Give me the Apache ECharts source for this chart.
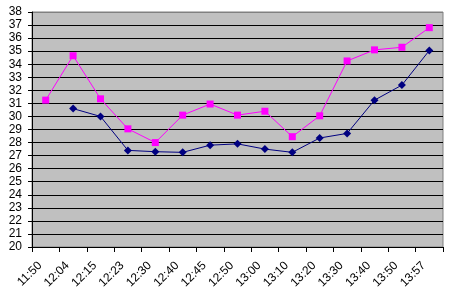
<!DOCTYPE html>
<html><head><meta charset="utf-8">
<script src="https://cdn.jsdelivr.net/npm/echarts@6/dist/echarts.min.js"></script>
<style>html,body{margin:0;padding:0;background:#fff}#c{width:449px;height:295px}</style>
</head><body><div id="c"></div>
<script>
const categories = ['11:50','12:04','12:15','12:23','12:30','12:40','12:45','12:50','13:00','13:10','13:20','13:30','13:40','13:50','13:57'];
const pinkValues = [31.25,34.65,31.35,29.05,28.0,30.1,30.95,30.1,30.4,28.45,30.05,34.25,35.1,35.3,36.8];
const blueValues = [null,30.6,30.0,27.4,27.3,27.25,27.8,27.9,27.5,27.25,28.35,28.7,31.25,32.4,35.05];
const yMin = 20, yMax = 38, yStep = 1;

const gridColors = [];
for (let v = yMin; v <= yMax; v += yStep) gridColors.push(v === yMax ? '#808080' : '#000000');

const chart = echarts.init(document.getElementById('c'), null, {renderer:'canvas'});
chart.setOption({
  animation:false,
  backgroundColor:'#ffffff',
  grid:{left:32,right:6,top:12,bottom:48,show:true,backgroundColor:'#C0C0C0',borderColor:'#808080',borderWidth:1,containLabel:false},
  xAxis:{type:'category',data:categories,boundaryGap:true,
    axisLine:{show:true,lineStyle:{color:'#000',width:1}},
    axisTick:{show:true,length:5,alignWithLabel:false,lineStyle:{color:'#000'}},
    axisLabel:{rotate:45,fontFamily:'Liberation Sans, Arial',fontSize:12,color:'#000',margin:11,interval:0,padding:[0,8,0,0]}},
  yAxis:{type:'value',min:yMin,max:yMax,interval:yStep,
    axisLine:{show:true,lineStyle:{color:'#000',width:1}},
    axisTick:{show:true,length:4,lineStyle:{color:'#000'}},
    splitLine:{show:true,lineStyle:{color:gridColors,width:1}},
    axisLabel:{fontFamily:'Liberation Sans, Arial',fontSize:12,color:'#000',margin:10}},
  series:[
    {type:'line',data:pinkValues,symbol:'rect',symbolSize:7,showSymbol:true,
     lineStyle:{color:'#FF00FF',width:1},itemStyle:{color:'#FF00FF'}},
    {type:'line',data:blueValues,symbol:'diamond',symbolSize:8,showSymbol:true,connectNulls:false,
     lineStyle:{color:'#000080',width:1},itemStyle:{color:'#000080'}}
  ]
});
</script></body></html>
